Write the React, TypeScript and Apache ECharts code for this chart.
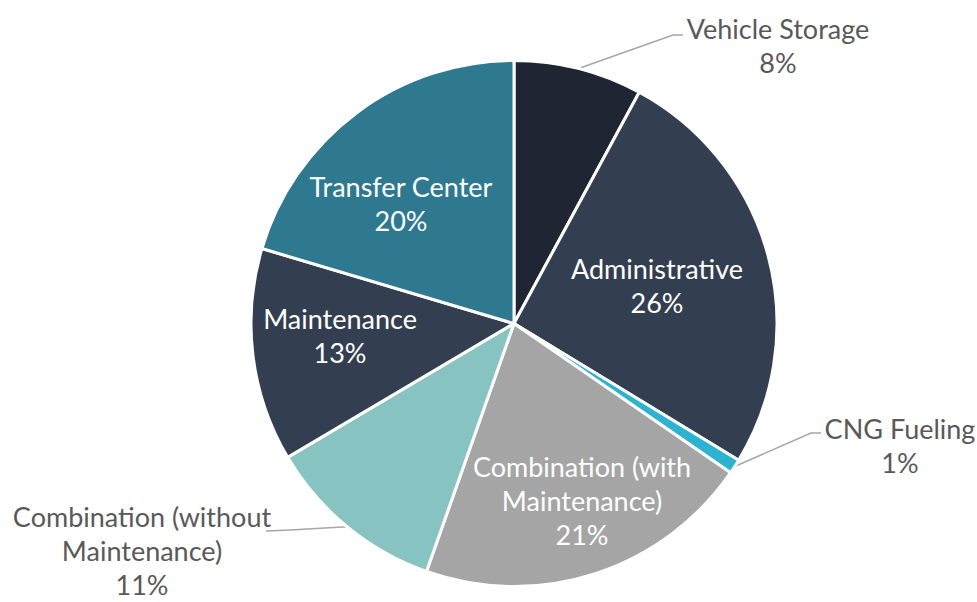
import React, { useEffect, useRef } from "react";
import * as echarts from "echarts";

const categories = [
  "Vehicle Storage",
  "Administrative",
  "CNG Fueling",
  "Combination (with\nMaintenance)",
  "Combination (without\nMaintenance)",
  "Maintenance",
  "Transfer Center",
];
const values = [7.9, 25.8, 0.9, 20.8, 11.1, 13.1, 20.4];
const colors = ["#1f2532", "#333f50", "#2db3cf", "#a5a5a5", "#86c3c1", "#333f50", "#2e7990"];
const outside = [true, false, true, false, true, false, false];

// label anchor (center of text block) and leader elbow/end points
const labelAnchors: [number, number][] = [
  [778, 45],
  [657, 285],
  [900, 445],
  [582, 500],
  [142, 550],
  [340, 335],
  [401, 203],
];
const leaderPoints: ([number, number][] | null)[] = [
  [[673, 35], [683, 35]],
  null,
  [[811, 433], [821, 433]],
  null,
  [[290, 530], [266, 531]],
  null,
  null,
];

const CX = 514;
const CY = 323.5;
const R = 263;

export default function App() {
  const ref = useRef<HTMLDivElement>(null);
  useEffect(() => {
    if (!ref.current) return;
    const chart = echarts.init(ref.current, null, { renderer: "svg" });
    const total = values.reduce((a, b) => a + b, 0);
    const mids: number[] = [];
    let acc = 0;
    values.forEach((v) => {
      mids.push(((acc + v / 2) / total) * Math.PI * 2);
      acc += v;
    });
    const data = categories.map((name, i) => ({
      name,
      value: values[i],
      itemStyle: { color: colors[i] },
      label: outside[i]
        ? { position: "outside", color: "#595959" }
        : { position: "inside", color: "#ffffff" },
      labelLine: { show: outside[i] },
    }));
    chart.setOption({
      animation: false,
      series: [
        {
          type: "pie",
          center: [CX, CY],
          radius: R,
          startAngle: 90,
          clockwise: true,
          data,
          itemStyle: { borderColor: "#ffffff", borderWidth: 3 },
          label: {
            show: true,
            fontFamily: "Lato",
            fontSize: 27,
            lineHeight: 34,
            align: "center",
            formatter: (p: any) => `${p.name}\n${Math.round(p.percent)}%`,
          },
          labelLine: {
            show: true,
            lineStyle: { color: "#a6a6a6", width: 1.5 },
          },
          labelLayout: (params: any) => {
            const i = params.dataIndex;
            const [x, y] = labelAnchors[i];
            const res: any = { x, y, align: "center", verticalAlign: "middle" };
            const lp = leaderPoints[i];
            if (lp) {
              const a = mids[i];
              const edge: [number, number] = [CX + R * Math.sin(a), CY - R * Math.cos(a)];
              res.labelLinePoints = [edge, lp[0], lp[1]];
            }
            return res;
          },
        },
      ],
    });
    return () => chart.dispose();
  }, []);
  return (
    <div
      ref={ref}
      style={{ position: "absolute", left: 0, top: 0, width: 977, height: 602, background: "#ffffff" }}
    />
  );
}
